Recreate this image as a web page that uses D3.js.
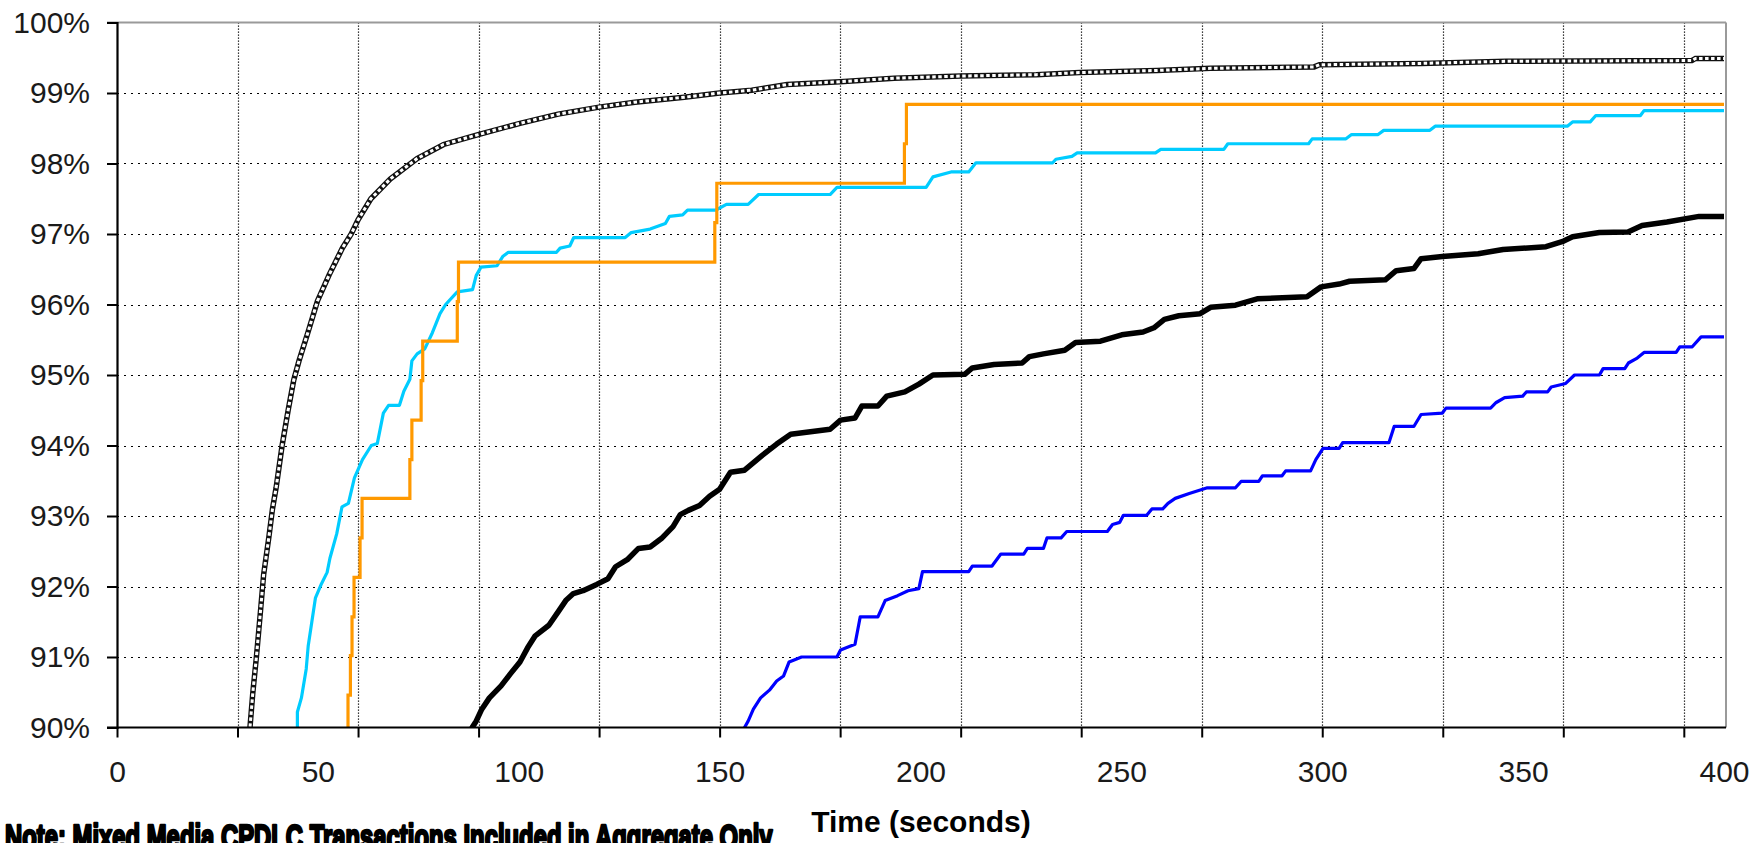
<!DOCTYPE html>
<html>
<head>
<meta charset="utf-8">
<script src="https://cdn.jsdelivr.net/npm/d3@7"></script>
<style>
  html, body { margin: 0; padding: 0; background: #fff; overflow: hidden; }
  svg { display: block; }
  text { font-family: "Liberation Sans", Arial, sans-serif; }
</style>
</head>
<body>
<svg id="chart" width="1758" height="843"></svg>
<script>
// ---------- DATA (time in seconds, cumulative percent) ----------
const yTickValues = [90, 91, 92, 93, 94, 95, 96, 97, 98, 99, 100];
const xLabelValues = [0, 50, 100, 150, 200, 250, 300, 350, 400];
const xGridValues = [0, 30, 60, 90, 120, 150, 180, 210, 240, 270, 300, 330, 360, 390];

// Aggregate (thin black line with hollow square markers)
const aggregateSeries = [
  [32.8, 89.5], [33.1, 90.0], [33.8, 90.49], [34.7, 91.0], [35.7, 91.64], [36.5, 92.17],
  [37.8, 92.7], [38.7, 93.1], [39.6, 93.4], [41.1, 94.0], [42.6, 94.5], [44.0, 94.93],
  [45.3, 95.2], [47.5, 95.6], [49.9, 96.05], [52.8, 96.42], [56.1, 96.8], [58.3, 97.0],
  [60.0, 97.2], [63.2, 97.5], [68.0, 97.78], [74.7, 98.07], [81.3, 98.27], [89.9, 98.41],
  [100.3, 98.57], [109.8, 98.70], [120, 98.80], [128.9, 98.87], [141.2, 98.94], [150, 99.0],
  [158, 99.04], [166.8, 99.12], [180, 99.16], [193.4, 99.21], [210, 99.24], [228.8, 99.26],
  [239.6, 99.29], [258.9, 99.32], [272.2, 99.35], [298, 99.37], [299.3, 99.40], [324.6, 99.42],
  [345.9, 99.45], [392, 99.46], [392.9, 99.49], [400, 99.49]
];

// Light blue (cyan) series
const cyanSeries = [
  [44.9, 89.5], [44.9, 90.22], [45.9, 90.42], [47.1, 90.83], [47.6, 91.16], [48.5, 91.5],
  [49.4, 91.84], [50.9, 92.04], [52.3, 92.2], [53.0, 92.4], [54.7, 92.75], [56.0, 93.13],
  [57.6, 93.18], [59.1, 93.54], [61.1, 93.8], [63.3, 94.0], [64.8, 94.03], [66.3, 94.46],
  [67.6, 94.57], [70.3, 94.57], [71.4, 94.77], [72.9, 94.94], [73.4, 95.2], [74.7, 95.3],
  [76.6, 95.37], [78.5, 95.6], [80.4, 95.87], [81.8, 96.0], [84.7, 96.18], [88.5, 96.21],
  [89.4, 96.41], [90.6, 96.53], [94.6, 96.55], [96.0, 96.68], [97.4, 96.74], [109.4, 96.74],
  [110.3, 96.8], [112.7, 96.83], [113.7, 96.95], [126.5, 96.95], [128, 97.02], [132.7, 97.07],
  [136.5, 97.15], [137.5, 97.25], [140.8, 97.27], [142, 97.34], [149.1, 97.34], [151.7, 97.42],
  [157.1, 97.42], [159.7, 97.56], [177.5, 97.56], [179.2, 97.66], [201.4, 97.66], [203.1, 97.81],
  [207.6, 97.88], [212, 97.88], [213.8, 98.01], [232.9, 98.01], [233.7, 98.06], [237.7, 98.10],
  [239, 98.15], [258.5, 98.15], [259.8, 98.20], [275.5, 98.20], [276.5, 98.28], [296.6, 98.28],
  [297.5, 98.35], [305.9, 98.35], [307.3, 98.41], [313.9, 98.41], [315.3, 98.47], [326.8, 98.47],
  [328.1, 98.53], [361, 98.53], [362.3, 98.59], [366.7, 98.59], [368.1, 98.68], [379.2, 98.68],
  [380.1, 98.75], [400, 98.75]
];

// Orange series (step after)
const orangeSeries = [
  [57.5, 89.5], [57.5, 90.46], [58.1, 91.02], [58.5, 91.57], [59.0, 92.13], [60.5, 92.69],
  [61.0, 93.25], [72.9, 93.8], [73.4, 94.36], [75.7, 94.92], [76.1, 95.48], [84.7, 96.04],
  [85.0, 96.6], [148.8, 97.16], [149.3, 97.72], [196.0, 98.28], [196.5, 98.84], [400, 98.84]
];

// Bold black series
const blackSeries = [
  [88.0, 89.5], [88.4, 90.0], [89.4, 90.09], [90.8, 90.26], [92.7, 90.42], [95.6, 90.59],
  [97.9, 90.76], [100.3, 90.93], [102.2, 91.13], [104.1, 91.3], [107.5, 91.45], [109.8, 91.64],
  [111.7, 91.8], [113.6, 91.9], [116.0, 91.94], [119.4, 92.03], [122.2, 92.11], [124.1, 92.28],
  [127, 92.38], [129.8, 92.54], [132.7, 92.56], [135.5, 92.68], [138.4, 92.85], [140.2, 93.02],
  [142.2, 93.08], [145, 93.15], [147.5, 93.28], [150, 93.38], [152.7, 93.62], [156.2, 93.65],
  [160.6, 93.86], [164.2, 94.02], [167.7, 94.16], [177.5, 94.23], [180.1, 94.36], [183.7, 94.39],
  [185.4, 94.56], [189.4, 94.56], [191.6, 94.70], [196.1, 94.76], [199.6, 94.87], [203.1, 95.00],
  [211, 95.01], [212.9, 95.10], [218.3, 95.15], [225.3, 95.17], [227.1, 95.26], [230.6, 95.30],
  [235.9, 95.35], [238.6, 95.46], [244.8, 95.48], [250.1, 95.57], [255.4, 95.61], [258.1, 95.67],
  [260.7, 95.79], [264.3, 95.84], [269.6, 95.87], [272.2, 95.96], [278.4, 95.99], [283.8, 96.08],
  [296.2, 96.11], [299.7, 96.25], [304.2, 96.29], [306.8, 96.33], [315.7, 96.35], [318.4, 96.48],
  [322.8, 96.51], [324.6, 96.65], [329.9, 96.68], [338.8, 96.72], [345, 96.78], [355.7, 96.82],
  [360.1, 96.90], [362.3, 96.96], [369, 97.02], [376.1, 97.03], [379.6, 97.12], [385.8, 97.17],
  [393.8, 97.25], [400, 97.25]
];

// Blue series
const blueSeries = [
  [156.0, 89.5], [156.2, 90.0], [157.1, 90.09], [158.4, 90.26], [160.2, 90.42], [162.4, 90.53],
  [164.2, 90.66], [165.9, 90.73], [167.3, 90.93], [170.4, 91.0], [179.2, 91.0], [180.1, 91.1],
  [183.7, 91.18], [185, 91.57], [189.4, 91.57], [191.2, 91.80], [194.3, 91.87], [196.9, 91.94],
  [199.6, 91.97], [200.5, 92.21], [212, 92.21], [212.9, 92.29], [217.8, 92.29], [220, 92.46],
  [225.7, 92.46], [226.6, 92.54], [230.6, 92.54], [231.5, 92.69], [235, 92.69], [236.4, 92.78],
  [246.5, 92.78], [247.8, 92.88], [249.6, 92.91], [250.5, 93.01], [256.3, 93.01], [257.6, 93.10],
  [260.3, 93.10], [261.6, 93.18], [263.4, 93.25], [266.9, 93.32], [271.4, 93.40], [278.4, 93.40],
  [279.8, 93.49], [284.2, 93.49], [285.1, 93.57], [290, 93.57], [290.9, 93.64], [297.1, 93.64],
  [298.4, 93.80], [300.2, 93.96], [304.2, 93.96], [305.1, 94.04], [316.6, 94.04], [317.9, 94.27],
  [322.8, 94.27], [324.6, 94.44], [329.9, 94.46], [330.8, 94.53], [341.9, 94.53], [343.3, 94.61],
  [345.4, 94.68], [349.9, 94.70], [350.8, 94.76], [356.1, 94.76], [357, 94.83], [360.6, 94.88],
  [362.8, 95.0], [369, 95.0], [369.9, 95.09], [375.3, 95.09], [376.2, 95.17], [378.4, 95.24],
  [380.1, 95.32], [388.1, 95.32], [389, 95.40], [392.1, 95.40], [394.3, 95.54], [400, 95.54]
];

const axisTitle = "Time (seconds)";
const noteText = "Note: Mixed Media CPDLC Transactions Included in Aggregate Only";

// ---------- LAYOUT ----------
const plot = { left: 117, right: 1726, top: 22.5, bottom: 727.5 };
const svg = d3.select("#chart");

const x = d3.scaleLinear().domain([0, 400.5]).range([plot.left, plot.right]);
const y = d3.scaleLinear().domain([90, 100]).range([plot.bottom, plot.top]);

svg.append("defs").append("clipPath").attr("id", "plotClip")
  .append("rect")
  .attr("x", plot.left).attr("y", plot.top)
  .attr("width", plot.right - plot.left).attr("height", plot.bottom - plot.top);

// Grid lines
const grid = svg.append("g");
grid.selectAll("line.h").data(yTickValues.filter(v => v > 90 && v < 100)).join("line")
  .attr("x1", plot.left).attr("x2", plot.right)
  .attr("y1", d => Math.round(y(d)) + 0.5).attr("y2", d => Math.round(y(d)) + 0.5)
  .attr("stroke", "#000").attr("stroke-width", 1.2).attr("stroke-dasharray", "2,5");
grid.selectAll("line.v").data(xGridValues.filter(v => v > 0)).join("line")
  .attr("x1", d => Math.round(x(d)) + 0.5).attr("x2", d => Math.round(x(d)) + 0.5)
  .attr("y1", plot.top).attr("y2", plot.bottom)
  .attr("stroke", "#000").attr("stroke-width", 1.2).attr("stroke-dasharray", "1.2,1.8");

// Frame (top & right grey)
svg.append("line").attr("x1", plot.left - 10).attr("x2", plot.right)
  .attr("y1", plot.top).attr("y2", plot.top).attr("stroke", "#9a9a9a").attr("stroke-width", 2);
svg.append("line").attr("x1", plot.right).attr("x2", plot.right)
  .attr("y1", plot.top).attr("y2", plot.bottom).attr("stroke", "#9a9a9a").attr("stroke-width", 2);

// Series
const series = svg.append("g").attr("clip-path", "url(#plotClip)");
const lineLin = d3.line().x(d => x(d[0])).y(d => y(d[1]));
const lineStep = d3.line().x(d => x(d[0])).y(d => y(d[1])).curve(d3.curveStepAfter);

// aggregate: thin line with hollow-square marker chain
series.append("path").datum(aggregateSeries).attr("d", lineLin)
  .attr("fill", "none").attr("stroke", "#111").attr("stroke-width", 5.5)
  .attr("stroke-linejoin", "miter");
series.append("path").datum(aggregateSeries).attr("d", lineLin)
  .attr("fill", "none").attr("stroke", "#fff").attr("stroke-width", 3)
  .attr("stroke-dasharray", "3.5,2.5");

series.append("path").datum(cyanSeries).attr("d", lineLin)
  .attr("fill", "none").attr("stroke", "#00CCFF").attr("stroke-width", 3.2)
  .attr("stroke-linejoin", "round");
series.append("path").datum(orangeSeries).attr("d", lineStep)
  .attr("fill", "none").attr("stroke", "#FF9900").attr("stroke-width", 3.2);
series.append("path").datum(blackSeries).attr("d", lineLin)
  .attr("fill", "none").attr("stroke", "#000").attr("stroke-width", 5.5)
  .attr("stroke-linejoin", "round");
series.append("path").datum(blueSeries).attr("d", lineLin)
  .attr("fill", "none").attr("stroke", "#0000FF").attr("stroke-width", 3.2)
  .attr("stroke-linejoin", "round");

// Y axis
const yAxis = d3.axisLeft(y).tickValues(yTickValues)
  .tickFormat(d => d + "%").tickSize(10).tickPadding(17);
const gy = svg.append("g").attr("transform", `translate(${plot.left},0)`).call(yAxis);
gy.select(".domain").attr("stroke", "#000").attr("stroke-width", 2.2);
gy.selectAll(".tick line").attr("stroke", "#000").attr("stroke-width", 2);
gy.selectAll(".tick text").attr("font-size", 30).attr("fill", "#1a1a1a")
  .attr("font-family", "'Liberation Sans', Arial, sans-serif");

// X axis ticks (every 30 s)
const xAxisTicks = d3.axisBottom(x).tickValues(xGridValues).tickFormat("").tickSize(10).tickSizeOuter(0);
const gx = svg.append("g").attr("transform", `translate(0,${plot.bottom})`).call(xAxisTicks);
gx.select(".domain").attr("stroke", "#000").attr("stroke-width", 2.2)
  .attr("d", `M${plot.left - 10},0H${plot.right}`);
gx.selectAll(".tick line").attr("stroke", "#000").attr("stroke-width", 2);

// X axis labels (every 50 s)
const xAxisLabels = d3.axisBottom(x).tickValues(xLabelValues).tickFormat(d3.format("d"))
  .tickSize(0).tickPadding(33);
const gxl = svg.append("g").attr("transform", `translate(0,${plot.bottom})`).call(xAxisLabels);
gxl.select(".domain").remove();
gxl.selectAll(".tick text").attr("font-size", 30).attr("fill", "#1a1a1a")
  .attr("font-family", "'Liberation Sans', Arial, sans-serif");

// Axis title
svg.append("text").attr("x", 921).attr("y", 832).attr("text-anchor", "middle")
  .attr("font-size", 30).attr("font-weight", "bold").attr("fill", "#000")
  .text(axisTitle);

// Note: heavy condensed text; fit natural width to 760px, then stretch vertically
const noteWidth = 768;
const note = svg.append("text")
  .attr("font-family", "'Liberation Sans Narrow', 'DejaVu Sans Condensed', 'Liberation Sans', sans-serif")
  .attr("font-size", 30).attr("font-weight", "bold").attr("fill", "#000")
  .attr("stroke", "#000").attr("stroke-width", 1.8).attr("stroke-linejoin", "round")
  .text(noteText);
const natural = note.node().getComputedTextLength() || noteWidth;
const fs = 30 * noteWidth / natural;
note.attr("font-size", fs);
const vScale = 26 / (fs * 0.73);
note.attr("transform", `translate(5,849) scale(1,${vScale})`);
</script>
</body>
</html>
